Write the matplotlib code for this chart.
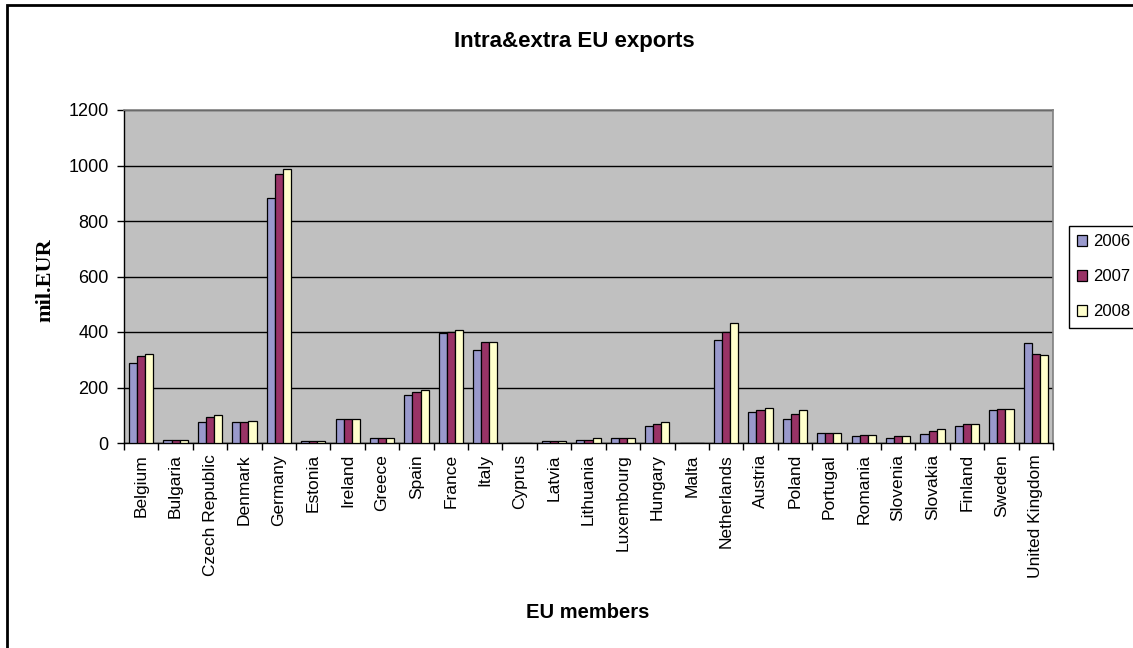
"""
Intra & extra EU exports by member state, 2006-2008.
"""

import numpy as np
import matplotlib.pyplot as plt
from matplotlib.patches import Rectangle

countries = ["Belgium", "Bulgaria", "Czech Republic", "Denmark", "Germany",
             "Estonia", "Ireland", "Greece", "Spain", "France", "Italy",
             "Cyprus", "Latvia", "Lithuania", "Luxembourg", "Hungary", "Malta",
             "Netherlands", "Austria", "Poland", "Portugal", "Romania",
             "Slovenia", "Slovakia", "Finland", "Sweden", "United Kingdom"]

exp_2006 = [290, 12, 74, 74, 883, 6, 86, 18, 173, 395, 334, 0, 6, 12, 19, 62,
            0, 371, 112, 86, 36, 25, 18, 31, 62, 118, 359]
exp_2007 = [314, 12, 94, 74, 969, 6, 86, 18, 185, 401, 364, 0, 6, 12, 19, 68,
            0, 401, 118, 104, 36, 30, 25, 44, 67, 124, 322]
exp_2008 = [321, 12, 100, 80, 989, 6, 86, 18, 191, 407, 364, 0, 6, 19, 19, 74,
            0, 432, 125, 118, 36, 30, 25, 50, 67, 124, 316]

years = ["2006", "2007", "2008"]
colors = ["#9999CC", "#993366", "#FFFFCC"]

W, H = 1133, 648
BAR_W = 0.235

plt.rcParams['font.family'] = ['Liberation Sans', 'DejaVu Sans']

fig = plt.figure(figsize=(W / 100, H / 100), dpi=100)
ax = fig.add_axes([124 / W, 1 - 443 / H, (1053 - 124) / W, (443 - 110) / H])
ax.set_facecolor("#C0C0C0")

x = np.arange(len(countries))
handles = []
for i, (vals, col) in enumerate(zip([exp_2006, exp_2007, exp_2008], colors)):
    b = ax.bar(x + (i - 1) * BAR_W, vals, width=BAR_W, color=col,
               edgecolor="black", linewidth=0.9, zorder=3)
    handles.append(b)

ax.set_xlim(-0.5, len(countries) - 0.5)
ax.set_ylim(0, 1200)
ax.set_yticks(np.arange(0, 1201, 200))
ax.yaxis.grid(True, color="black", linewidth=1, zorder=1)
ax.tick_params(axis="y", direction="out", length=5, width=1, labelsize=13, pad=6)

ax.set_xticks(x)
ax.set_xticklabels(countries, rotation=90, fontsize=12.5)
ax.set_xticks(np.arange(-0.5, len(countries)), minor=True)
ax.tick_params(axis="x", which="major", length=0, pad=8)
ax.tick_params(axis="x", which="minor", direction="out", length=5, width=1)

for s in ["left", "bottom"]:
    ax.spines[s].set_color("black")
    ax.spines[s].set_linewidth(1)
for s in ["top", "right"]:
    ax.spines[s].set_color("#808080")
    ax.spines[s].set_linewidth(1.2)

fig.text(574 / W, 1 - 41 / H, "Intra&extra EU exports", ha="center",
         va="center", fontsize=16, fontweight="bold")
fig.text(588 / W, 1 - 612 / H, "EU members", ha="center", va="center",
         fontsize=14.5, fontweight="bold")
fig.text(45 / W, 1 - 280 / H, "mil.EUR", ha="center", va="center",
         rotation=90, fontsize=16, fontweight="bold",
         family=["Liberation Serif", "DejaVu Serif"])

leg = fig.legend(handles, years, loc="upper left",
                 bbox_to_anchor=(1069 / W, 1 - 226 / H), borderaxespad=0,
                 fancybox=False, edgecolor="black", framealpha=1,
                 fontsize=12, handlelength=0.6, handleheight=0.6,
                 handletextpad=0.33, labelspacing=1.2, borderpad=0.5)
leg.get_frame().set_linewidth(1)

# outer chart border (right/bottom edges fall outside the image)
fig.patches.append(Rectangle((7 / W, -0.1), 1.1, 1 - 5 / H + 0.1,
                             transform=fig.transFigure, fill=False,
                             edgecolor="black", linewidth=2, clip_on=False))

fig.savefig("out.png", dpi=100)
